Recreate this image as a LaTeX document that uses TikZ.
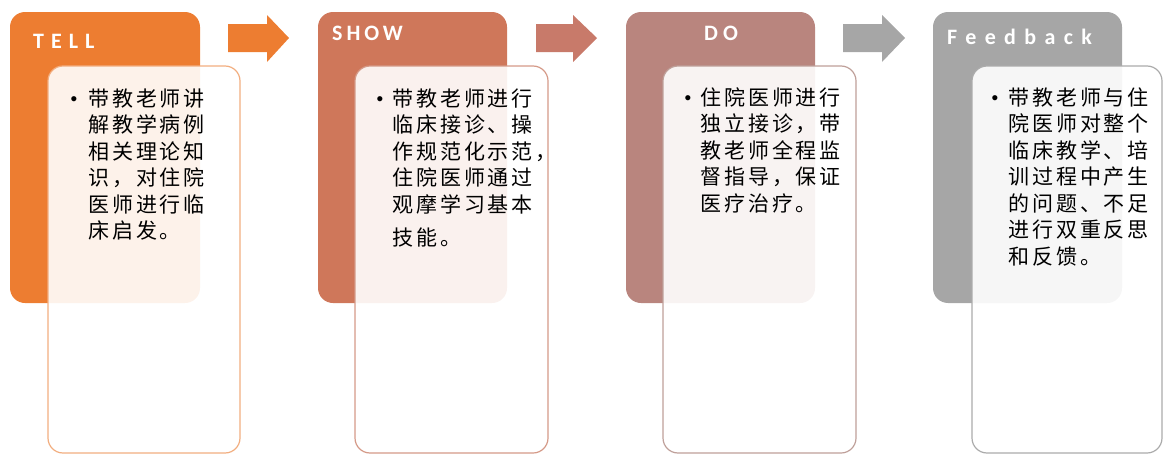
\documentclass[tikz,border=0pt]{standalone}
\usepackage{fontspec}
\setmainfont{Liberation Sans}
\newfontfamily\cjk[LetterSpace=14]{Noto Sans CJK SC}
\newfontfamily\headfont[LetterSpace=32]{Carlito Bold}
\definecolor{cTell}{HTML}{ED7D31}
\definecolor{cShow}{HTML}{CF775A}
\definecolor{cDo}{HTML}{B9857E}
\definecolor{cFb}{HTML}{A6A6A6}
\definecolor{aShow}{HTML}{C87A6A}
\definecolor{bTell}{HTML}{F2AE80}
\definecolor{bShow}{HTML}{D59A88}
\definecolor{bDo}{HTML}{BFA09A}
\definecolor{bFb}{HTML}{ABABAB}
\tikzset{
  backbox/.style={rounded corners=15pt, draw=none},
  frontbox/.style={rounded corners=15pt, fill=white, fill opacity=0.9, line width=1.2pt},
  head/.style={text=white, font=\headfont\fontsize{22}{26}\selectfont, inner sep=0pt, anchor=base west},
  body/.style={inner sep=0pt, anchor=base west, font=\cjk\fontsize{21}{26.5}\selectfont},
  bul/.style={inner sep=0pt, anchor=base, font=\fontsize{19}{19}\selectfont}
}
\begin{document}
\begin{tikzpicture}[x=1pt,y=-1pt]
\useasboundingbox (0,0) rectangle (1163,455);
% back boxes
\fill[backbox, cTell] (10,12) rectangle (200,303);
\fill[backbox, cShow] (318,12) rectangle (507,303);
\fill[backbox, cDo] (626,12) rectangle (815,303);
\fill[backbox, cFb] (933,12) rectangle (1122,303);
% front boxes
\draw[frontbox, draw=bTell] (48,66) rectangle (240,453);
\draw[frontbox, draw=bShow] (355,66) rectangle (548,453);
\draw[frontbox, draw=bDo] (663,66) rectangle (856,453);
\draw[frontbox, draw=bFb] (972,66) rectangle (1162,453);
% arrows
\fill[cTell] (228,24) -- (267,24) -- (267,15) -- (289,38) -- (267,62) -- (267,52) -- (228,52) -- cycle;
\fill[aShow] (536,24) -- (573,24) -- (573,15) -- (597,38) -- (573,62) -- (573,52) -- (536,52) -- cycle;
\fill[cFb] (843,24) -- (882,24) -- (882,15) -- (905,38) -- (882,62) -- (882,52) -- (843,52) -- cycle;
% headings
\node[head] (h1) at (33,48) {TELL};
\node[head, font=\headfont\addfontfeature{LetterSpace=18}\fontsize{22}{26}\selectfont] (h2) at (332,40) {SHOW};
\node[head, font=\headfont\addfontfeature{LetterSpace=23}\fontsize{22}{26}\selectfont] (h3) at (704,40) {DO};
\node[head, font=\headfont\addfontfeature{LetterSpace=38}\fontsize{22}{26}\selectfont] (h4) at (947,45) {Feedback};
% texts
\node[body] (t1) at (88,106) {\parbox[t]{160pt}{带教老师讲\\解教学病例\\相关理论知\\识，对住院\\医师进行临\\床启发。}};
\node[body] (t2) at (392,106) {\parbox[t]{160pt}{带教老师进行\\临床接诊、操\\作规范化示范，\\住院医师通过\\观摩学习基本\\[7pt]技能。}};
\node[body] (t3) at (700,105) {\parbox[t]{160pt}{住院医师进行\\独立接诊，带\\教老师全程监\\督指导，保证\\医疗治疗。}};
\node[body] (t4) at (1008,105) {\parbox[t]{160pt}{带教老师与住\\院医师对整个\\临床教学、培\\训过程中产生\\的问题、不足\\进行双重反思\\和反馈。}};
\node[bul] (b1) at (74,105) {•};
\node[bul] (b2) at (380,105) {•};
\node[bul] (b3) at (688,104) {•};
\node[bul] (b4) at (995,104) {•};
\end{tikzpicture}
\end{document}
